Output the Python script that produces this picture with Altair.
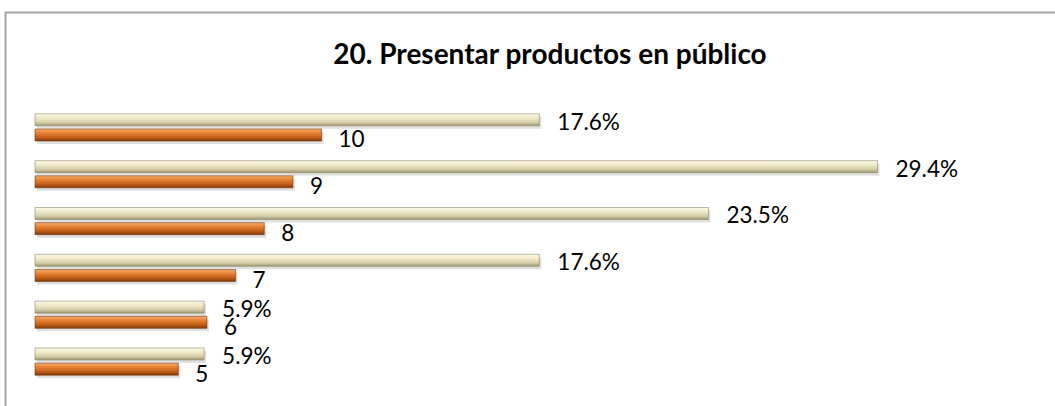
import altair as alt
import pandas as pd

# Rating scale rows (top to bottom), their counts and share of answers
groups = ["10", "9", "8", "7", "6", "5"]
counts = [10, 9, 8, 7, 6, 5]
percents = [17.6, 29.4, 23.5, 17.6, 5.9, 5.9]

df = pd.DataFrame({"group": groups, "count": counts, "pct": percents})

title_text = "20. Presentar productos en público"
font = "Lato"

beige = alt.Gradient(
    gradient="linear", x1=0, x2=0, y1=0, y2=1,
    stops=[
        alt.GradientStop(color="#fdfbea", offset=0),
        alt.GradientStop(color="#efe9c8", offset=0.35),
        alt.GradientStop(color="#d6cfa8", offset=0.7),
        alt.GradientStop(color="#9d9674", offset=1),
    ],
)
orange = alt.Gradient(
    gradient="linear", x1=0, x2=0, y1=0, y2=1,
    stops=[
        alt.GradientStop(color="#f7ad6c", offset=0),
        alt.GradientStop(color="#e57f32", offset=0.35),
        alt.GradientStop(color="#c05d18", offset=0.7),
        alt.GradientStop(color="#7e3a0c", offset=1),
    ],
)

y_enc = alt.Y("group:N", sort=groups, axis=None,
              scale=alt.Scale(paddingInner=0, paddingOuter=0))
x_scale = alt.Scale(domain=[0, 35], nice=False, zero=True)

base = alt.Chart(df).encode(y=y_enc)

BAR_H = 12
UP, DOWN = -7.6, 7.6

shadow_pct = base.mark_bar(height=BAR_H, yOffset=UP + 3, xOffset=2,
                           color="#000000", opacity=0.12).encode(
    x=alt.X("pct:Q", scale=x_scale, axis=None))
shadow_cnt = base.mark_bar(height=BAR_H, yOffset=DOWN + 3, xOffset=2,
                           color="#000000", opacity=0.12).encode(
    x=alt.X("count:Q", scale=x_scale, axis=None))

bar_pct = base.mark_bar(height=BAR_H, yOffset=UP, color=beige,
                        stroke="#8f8867", strokeWidth=0.6).encode(
    x=alt.X("pct:Q", scale=x_scale, axis=None))
bar_cnt = base.mark_bar(height=BAR_H, yOffset=DOWN, color=orange,
                        stroke="#7a380b", strokeWidth=0.6).encode(
    x=alt.X("count:Q", scale=x_scale, axis=None))

lbl_pct = base.transform_calculate(
    label="format(datum.pct, '.1f') + '%'"
).mark_text(align="left", baseline="middle", dx=18, dy=-4.6,
            font=font, fontSize=22.5, color="#000000", clip=True).encode(
    x=alt.X("pct:Q", scale=x_scale, axis=None), text="label:N")
lbl_cnt = base.mark_text(align="left", baseline="middle", dx=17, dy=13,
                         font=font, fontSize=22.5, color="#000000",
                         clip=True).encode(
    x=alt.X("count:Q", scale=x_scale, axis=None), text="count:N")

single = alt.Chart(pd.DataFrame({"t": [title_text]}))

frame = single.mark_rect(
    fill=None, stroke="#a3a3a3", strokeWidth=2
).encode(
    x=alt.value(-29.5), x2=alt.value(1100),
    y=alt.value(-91.5), y2=alt.value(400),
)

title = single.mark_text(
    align="center", baseline="alphabetic", font=font, fontSize=28,
    fontWeight="bold", color="#000000",
).encode(x=alt.value(515), y=alt.value(-40.5), text="t:N")

chart = alt.layer(
    frame, shadow_pct, shadow_cnt, bar_pct, bar_cnt, lbl_pct, lbl_cnt, title
).properties(
    width=1003,
    height=281,
    padding={"left": 35, "top": 104, "right": 17, "bottom": 21},
    autosize=alt.AutoSizeParams(type="none"),
    background="white",
).configure_view(stroke=None)

chart.save("out.html", embed_options={"renderer": "svg", "actions": False})
